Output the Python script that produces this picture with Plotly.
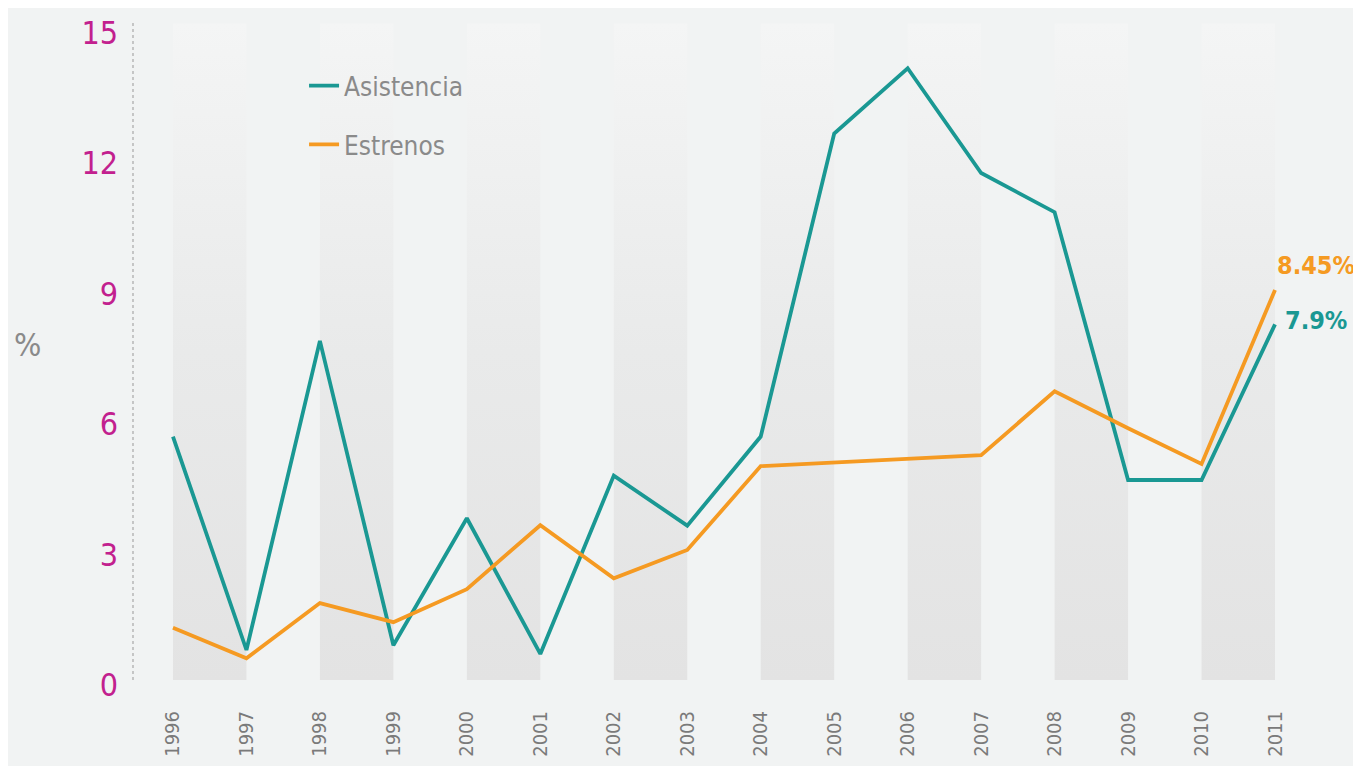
import plotly.graph_objects as go

years = [1996, 1997, 1998, 1999, 2000, 2001, 2002, 2003,
         2004, 2005, 2006, 2007, 2008, 2009, 2010, 2011]
asistencia = [5.6, 0.69, 7.8, 0.8, 3.72, 0.6, 4.7, 3.55,
              5.6, 12.57, 14.07, 11.66, 10.76, 4.6, 4.6, 8.18]
estrenos = [1.2, 0.5, 1.77, 1.33, 2.09, 3.56, 2.34, 2.99,
            4.92, 5.01, 5.08, 5.17, 6.64, 5.79, 4.97, 8.97]
y_ticks = [0, 3, 6, 9, 12, 15]
label_asistencia = "7.9%"
label_estrenos = "8.45%"

TEAL = "#1a9893"
ORANGE = "#f59a22"
MAGENTA = "#c2208e"
GRAY = "#8a8a8a"
FONT = "DejaVu Sans Condensed, Liberation Sans Narrow, Roboto, sans-serif"

fig = go.Figure()

# alternating grey bands (every other year interval), vertical gradient
band_top = 15.1
for i in range(0, len(years) - 1, 2):
    x0, x1 = years[i], years[i + 1]
    fig.add_trace(go.Scatter(
        x=[x0, x1, x1, x0, x0], y=[0, 0, band_top, band_top, 0],
        mode="lines", line=dict(width=0), fill="toself",
        fillgradient=dict(type="vertical",
                          colorscale=[[0, "#e3e3e3"], [0.5, "#e9eaea"], [1, "#f4f5f5"]]),
        hoverinfo="skip", showlegend=False))

fig.add_trace(go.Scatter(x=years, y=asistencia, mode="lines", name="Asistencia",
                         line=dict(color=TEAL, width=3.8), legendgroup="a"))
fig.add_trace(go.Scatter(x=years, y=estrenos, mode="lines", name="Estrenos",
                         line=dict(color=ORANGE, width=3.8), legendgroup="e"))

# end labels
fig.add_annotation(x=years[-1], y=estrenos[-1], text=label_estrenos, showarrow=False,
                   xanchor="left", xshift=0, yshift=25,
                   font=dict(family=FONT, size=25, color=ORANGE, weight=600))
fig.add_annotation(x=years[-1], y=asistencia[-1], text=label_asistencia, showarrow=False,
                   xanchor="left", xshift=8, yshift=4,
                   font=dict(family=FONT, size=25, color=TEAL, weight=600))

# "%" label
fig.add_annotation(x=-0.087, y=0.508, xref="paper", yref="paper", text="%",
                   showarrow=False, xanchor="center", yanchor="middle",
                   font=dict(family=FONT, size=32, color=GRAY))

# dashed axis line
fig.add_shape(type="line", xref="paper", yref="paper", x0=0, x1=0, y0=0, y1=1,
              line=dict(color="#a8a8a8", width=1.2, dash="dot"))

fig.update_layout(
    width=1353, height=758,
    margin=dict(l=125, r=20, t=12, b=86, autoexpand=False),
    paper_bgcolor="#f1f3f3", plot_bgcolor="rgba(0,0,0,0)",
    legend=dict(x=0.1416, y=0.936, xanchor="left", yanchor="top",
                bgcolor="rgba(0,0,0,0)", tracegroupgap=22,
                font=dict(family=FONT, size=26, color=GRAY)),
)
fig.update_xaxes(range=[1995.456, 2011.898], tickvals=years, tickangle=-90,
                 showgrid=False, zeroline=False, showline=False, automargin=False,
                 ticks="", ticklabelstandoff=26,
                 tickfont=dict(family=FONT, size=20, color="#7a7a7a"))
fig.update_yaxes(range=[0, 15.18], tickvals=y_ticks,
                 showgrid=False, zeroline=False, showline=False, automargin=False,
                 ticks="", ticklabelstandoff=14, ticklabelshift=5,
                 tickfont=dict(family=FONT, size=32, color=MAGENTA))

fig.write_html("out.html")
